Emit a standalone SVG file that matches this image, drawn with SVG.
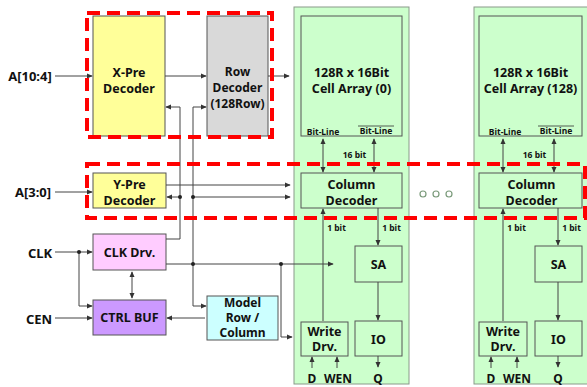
<svg xmlns="http://www.w3.org/2000/svg" width="587" height="387" viewBox="0 0 587 387">
<defs>
<marker id="ah" viewBox="0 0 8 8" refX="7" refY="4" markerWidth="6" markerHeight="6" orient="auto-start-reverse" markerUnits="userSpaceOnUse"><path d="M0,0.5 L8,4 L0,7.5 Z" fill="#333"/></marker>
<style>
.t{font-family:"Noto Sans","Liberation Sans",sans-serif;font-weight:bold;fill:#111;text-anchor:middle}
.b{font-size:12.5px}
.m{font-size:12px}
.s{font-size:8.5px}
.l{font-size:13px}
.box{stroke:#555;stroke-width:1}
.col{fill:#ccffcc;stroke:#8a9a8a;stroke-width:1}
.in{fill:#ccffcc;stroke:#555;stroke-width:1}
.c{fill:none;stroke:#444;stroke-width:1}
.a{marker-end:url(#ah)}
.d{marker-start:url(#ah);marker-end:url(#ah)}
.dot{fill:#222}
.red{fill:none;stroke:#ff0000;stroke-width:4;stroke-dasharray:13 7}
</style>
</defs>
<rect width="587" height="387" fill="#ffffff"/>

<g id="column0">
<rect class="col" x="294" y="7" width="115" height="377"/>
</g>
<g id="column128">
<rect class="col" x="474" y="7" width="115" height="377"/>
</g>

<g id="xpre"><rect class="box" x="93" y="16" width="72" height="120" fill="#ffff99"/>
<text class="t b" x="129" y="77">X-Pre</text><text class="t b" x="129" y="93">Decoder</text></g>
<g id="rowdec"><rect class="box" x="207" y="16" width="61" height="120" fill="#d9d9d9"/>
<text class="t m" x="237.5" y="76">Row</text><text class="t m" x="237.5" y="92">Decoder</text><text class="t m" x="237.5" y="108">(128Row)</text></g>
<g id="ypre"><rect class="box" x="93" y="173" width="73" height="35" fill="#ffff99"/>
<text class="t b" x="129.5" y="189">Y-Pre</text><text class="t b" x="129.5" y="205">Decoder</text></g>
<g id="clkdrv"><rect class="box" x="93" y="234" width="73" height="36" fill="#ffccff"/>
<text class="t b" x="129.5" y="257">CLK Drv.</text></g>
<g id="ctrlbuf"><rect class="box" x="93" y="300" width="73" height="35" fill="#cc99ff"/>
<text class="t b" x="129.5" y="322">CTRL BUF</text></g>
<g id="model"><rect class="box" x="207" y="296" width="71" height="44" fill="#ccffff"/>
<text class="t m" x="242.5" y="307">Model</text><text class="t m" x="242.5" y="322">Row /</text><text class="t m" x="242.5" y="337">Column</text></g>

<g id="array0"><rect class="in" x="301" y="16" width="101" height="120"/>
<text class="t b" x="351.5" y="77">128R x 16Bit</text><text class="t b" x="351.5" y="93">Cell Array (0)</text>
<text class="t s" x="323" y="135">Bit-Line</text><text class="t s" x="376" y="134">Bit-Line</text>
<line x1="358" y1="126" x2="394" y2="126" stroke="#333" stroke-width="0.8"/></g>
<g id="coldec0"><rect class="in" x="301" y="173" width="101" height="35"/>
<text class="t b" x="351.5" y="189">Column</text><text class="t b" x="351.5" y="205">Decoder</text></g>
<g id="sa0"><rect class="in" x="355" y="246" width="47" height="36"/><text class="t b" x="378.5" y="269">SA</text></g>
<g id="io0"><rect class="in" x="355" y="321" width="47" height="35"/><text class="t b" x="378.5" y="344">IO</text></g>
<g id="wdrv0"><rect class="in" x="301" y="322" width="47" height="34"/>
<text class="t b" x="324.5" y="336">Write</text><text class="t b" x="324.5" y="351">Drv.</text></g>

<g id="array128"><rect class="in" x="479" y="16" width="103" height="120"/>
<text class="t b" x="530.5" y="77">128R x 16Bit</text><text class="t b" x="530.5" y="93">Cell Array (128)</text>
<text class="t s" x="505" y="135">Bit-Line</text><text class="t s" x="556" y="134">Bit-Line</text>
<line x1="538" y1="126" x2="574" y2="126" stroke="#333" stroke-width="0.8"/></g>
<g id="coldec128"><rect class="in" x="479" y="173" width="103" height="35"/>
<text class="t b" x="531.5" y="189">Column</text><text class="t b" x="531.5" y="205">Decoder</text></g>
<g id="sa128"><rect class="in" x="535" y="246" width="47" height="36"/><text class="t b" x="558.5" y="269">SA</text></g>
<g id="io128"><rect class="in" x="535" y="321" width="47" height="35"/><text class="t b" x="558.5" y="344">IO</text></g>
<g id="wdrv128"><rect class="in" x="479" y="322" width="48" height="34"/>
<text class="t b" x="503" y="336">Write</text><text class="t b" x="503" y="351">Drv.</text></g>

<g id="labels">
<text class="t l" x="30" y="81">A[10:4]</text>
<text class="t l" x="33" y="197">A[3:0]</text>
<text class="t l" x="40" y="258">CLK</text>
<text class="t l" x="39" y="324">CEN</text>
<text class="t s" x="354.5" y="158">16 bit</text>
<text class="t s" x="336.5" y="231">1 bit</text>
<text class="t s" x="391.5" y="231">1 bit</text>
<text class="t s" x="534.5" y="158">16 bit</text>
<text class="t s" x="516.5" y="231">1 bit</text>
<text class="t s" x="571.5" y="231">1 bit</text>
<text class="t m" x="312" y="383">D</text>
<text class="t m" x="338" y="383">WEN</text>
<text class="t m" x="378" y="383">Q</text>
<text class="t m" x="491" y="383">D</text>
<text class="t m" x="517" y="383">WEN</text>
<text class="t m" x="558" y="383">Q</text>
</g>

<g id="ellipsis" fill="#ffffff" stroke="#7a9a7a" stroke-width="1.2">
<circle cx="423" cy="194" r="3"/><circle cx="436" cy="194" r="3"/><circle cx="449" cy="194" r="3"/>
</g>

<g id="connectors">
<path class="c a" d="M55,76 H92"/>
<path class="c a" d="M165,76 H206"/>
<path class="c a" d="M268,76 H289"/>
<path class="c a" d="M55,192 H92"/>
<path class="c a" d="M166,185 H290"/>
<path class="c a" d="M193,197 H290"/>
<path class="c a" d="M166,239 H180 V107 H166"/>
<path class="c a" d="M180,197 H167"/>
<path class="c a" d="M193,306 V107 H206"/>
<path class="c a" d="M193,306 H206"/>
<path class="c a" d="M166,264 H333"/>
<path class="c a" d="M281,264 V337 H292"/>
<path class="c a" d="M55,252 H92"/>
<path class="c a" d="M79,252 V306 H92"/>
<path class="c a" d="M55,318 H92"/>
<path class="c d" d="M132,272 V298"/>
<path class="c a" d="M205,318 H167"/>
<path class="c d" d="M323,139 V172"/>
<path class="c d" d="M374,139 V172"/>
<path class="c a" d="M323,321 V209"/>
<path class="c a" d="M378,208 V245"/>
<path class="c a" d="M378,282 V320"/>
<path class="c a" d="M312,368 V357"/>
<path class="c a" d="M337,368 V357"/>
<path class="c a" d="M378,356 V367"/>
<path class="c d" d="M503,139 V172"/>
<path class="c d" d="M554,139 V172"/>
<path class="c a" d="M503,321 V209"/>
<path class="c a" d="M558,208 V245"/>
<path class="c a" d="M558,282 V320"/>
<path class="c a" d="M491,368 V357"/>
<path class="c a" d="M517,368 V357"/>
<path class="c a" d="M558,356 V367"/>
<circle class="dot" cx="180" cy="197" r="2"/>
<circle class="dot" cx="193" cy="197" r="2"/>
<circle class="dot" cx="193" cy="264" r="2"/>
<circle class="dot" cx="281" cy="264" r="2"/>
<circle class="dot" cx="79" cy="252" r="2"/>
</g>

<g id="groups">
<rect class="red" x="87" y="13" width="185" height="124"/>
<rect class="red" x="87" y="164" width="498" height="54"/>
</g>
</svg>
